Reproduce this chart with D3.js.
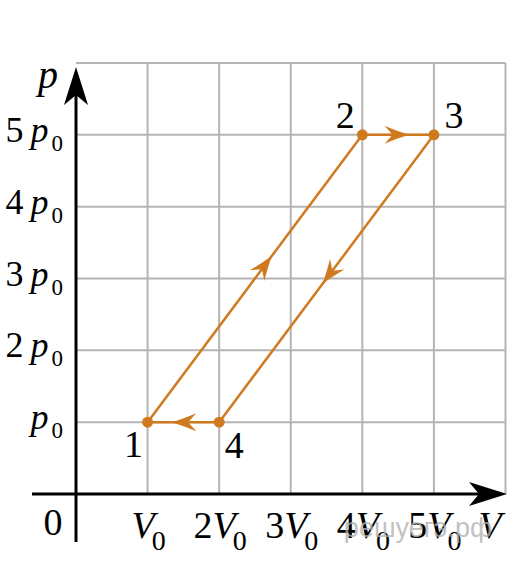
<!DOCTYPE html>
<html><head><meta charset="utf-8">
<script src="https://cdn.jsdelivr.net/npm/d3@7/dist/d3.min.js"></script>
<style>html,body{margin:0;padding:0;background:#fff;}</style>
</head><body>
<script>
// ---- data ----
const stateNames = ["1", "2", "3", "4"];
const stateV = [1, 4, 5, 2];     // in units of V0
const stateP = [1, 5, 5, 1];     // in units of p0
const xTickValues = [1, 2, 3, 4, 5];
const xTickCoefs = ["", "2", "3", "4", "5"];
const yTickValues = [1, 2, 3, 4, 5];
const yTickCoefs = ["", "2", "3", "4", "5"];
const gridMax = 6;

const W = 513, H = 563;
const ORANGE = "#d07a20";
const GRID = "#b4b4b4";
const SERIF = "Liberation Serif";

const svg = d3.select("body").append("svg").attr("width", W).attr("height", H);
const x = d3.scaleLinear().domain([0, gridMax]).range([76, 505.5]);
const y = d3.scaleLinear().domain([0, gridMax]).range([494, 63]);

// grid
const g = svg.append("g").attr("stroke", GRID).attr("stroke-width", 2);
d3.range(1, gridMax + 1).forEach(v => {
  g.append("line").attr("x1", x(v)).attr("x2", x(v)).attr("y1", y(0)).attr("y2", y(gridMax));
  g.append("line").attr("y1", y(v)).attr("y2", y(v)).attr("x1", x(0)).attr("x2", x(gridMax));
});

// axes
const axisArrow = "M0,0 L-38,-12 L-28,0 L-38,12 Z";
svg.append("line").attr("x1", 32).attr("x2", 500).attr("y1", y(0)).attr("y2", y(0))
  .attr("stroke", "#000").attr("stroke-width", 3);
svg.append("path").attr("d", axisArrow).attr("fill", "#000")
  .attr("transform", `translate(507,${y(0)})`);
svg.append("line").attr("x1", x(0)).attr("x2", x(0)).attr("y1", 542).attr("y2", 75)
  .attr("stroke", "#000").attr("stroke-width", 3);
svg.append("path").attr("d", axisArrow).attr("fill", "#000")
  .attr("transform", `translate(${x(0)},67) rotate(-90)`);

function txt(xp, yp, size, anchor) {
  return svg.append("text").attr("x", xp).attr("y", yp).attr("text-anchor", anchor || "middle")
    .style("font-family", SERIF).style("font-size", size + "px");
}

// axis labels
txt(48, 88, 40).style("font-style", "italic").text("p");
txt(490, 538, 38).style("font-style", "italic").text("V");
txt(53, 535, 38).text("0");

// y tick labels
yTickValues.forEach((v, i) => {
  const t = txt(63, y(v) + 7, 36, "end");
  if (yTickCoefs[i]) t.append("tspan").text(yTickCoefs[i]);
  t.append("tspan").style("font-style", "italic").attr("dx", yTickCoefs[i] ? 7 : 0).text("p");
  t.append("tspan").style("font-size", "23px").attr("dy", 9).attr("dx", 3).text("0");
});

// x tick labels
xTickValues.forEach((v, i) => {
  const t = txt(x(v) + 1, 538, 38);
  if (xTickCoefs[i]) t.append("tspan").text(xTickCoefs[i]);
  t.append("tspan").style("font-style", "italic").text("V");
  t.append("tspan").style("font-size", "28px").attr("dy", 12).attr("dx", -3).text("0");
});

// cycle
const pts = stateV.map((v, i) => [x(v), y(stateP[i])]);
const cyc = svg.append("g");
const headPath = "M0,0 Q-11,-3 -25,-9 L-17,0 L-25,9 Q-11,3 0,0 Z";
const arrowPos = [0.58, 0.66, 0.52, 0.67];
pts.forEach((p, i) => {
  const q = pts[(i + 1) % pts.length];
  cyc.append("line").attr("x1", p[0]).attr("y1", p[1]).attr("x2", q[0]).attr("y2", q[1])
    .attr("stroke", ORANGE).attr("stroke-width", 2.5);
  const t = arrowPos[i];
  const ax = p[0] + (q[0] - p[0]) * t, ay = p[1] + (q[1] - p[1]) * t;
  const ang = Math.atan2(q[1] - p[1], q[0] - p[0]) * 180 / Math.PI;
  cyc.append("path").attr("d", headPath).attr("fill", ORANGE)
    .attr("transform", `translate(${ax},${ay}) rotate(${ang})`);
});
cyc.selectAll("circle").data(pts).join("circle")
  .attr("cx", d => d[0]).attr("cy", d => d[1]).attr("r", 5.5).attr("fill", ORANGE);

// state labels
const labelOff = [[-14, 35], [-17, -7], [20, -7], [15, 36]];
stateNames.forEach((n, i) => {
  txt(pts[i][0] + labelOff[i][0], pts[i][1] + labelOff[i][1], 38).text(n);
});

// watermark
svg.append("text").attr("x", 418).attr("y", 537).attr("text-anchor", "middle")
  .style("font-family", "Liberation Sans").style("font-size", "27px")
  .attr("fill", "#b0b0b0").attr("fill-opacity", 0.8).text("решуегэ.рф");
</script>
</body></html>
